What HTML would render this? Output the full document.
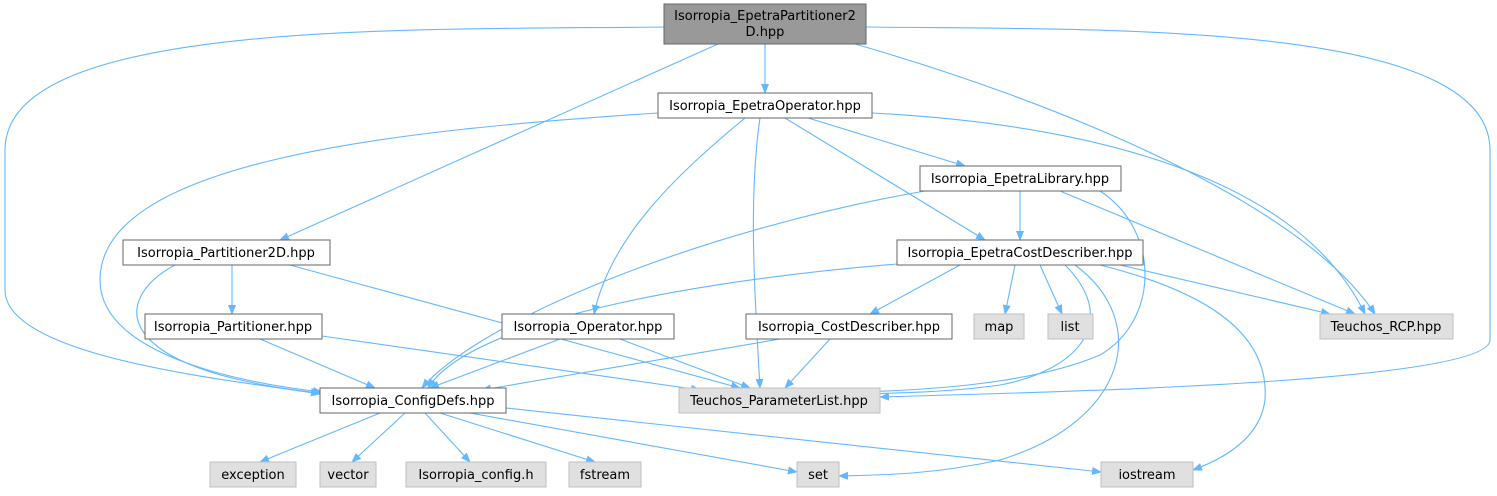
<!DOCTYPE html>
<html><head><meta charset="utf-8"><style>
html,body{margin:0;padding:0;background:#fff;}
svg text{font-family:"DejaVu Sans","Liberation Sans",sans-serif;font-size:13px;fill:#000;}
</style></head><body>
<svg width="1497" height="491" viewBox="0 0 1497 491" xmlns="http://www.w3.org/2000/svg">
<defs><marker id="a" markerWidth="10" markerHeight="8" refX="9" refY="4" orient="auto" markerUnits="userSpaceOnUse"><path d="M0,0 L10,4 L0,8 z" fill="#63b8ff"/></marker></defs>
<g fill="none" stroke="#63b8ff" stroke-width="1.1" marker-end="url(#a)">
<path d="M765,44 L765,93"/>
<path d="M718,44 L280,240"/>
<path d="M855,44 C1050,100 1300,200 1375,314"/>
<path d="M664,27 C400,30 5,20 5,150 L5,290 C5,360 250,382 320,394"/>
<path d="M866,27 C1100,30 1490,20 1490,150 L1490,340 C1490,385 1000,393 880,397"/>
<path d="M808,118 L965,166"/>
<path d="M785,118 L985,240"/>
<path d="M872,113 C1100,125 1300,180 1365,314"/>
<path d="M760,118 C748,200 755,300 760,388"/>
<path d="M745,118 C670,180 610,240 594,314"/>
<path d="M658,113 C400,130 100,160 100,280 C100,360 260,385 322,392"/>
<path d="M1020,191 L1020,240"/>
<path d="M1060,191 L1355,314"/>
<path d="M925,191 C700,230 480,320 422,388"/>
<path d="M1100,191 C1160,230 1160,320 1100,355 C1030,385 920,390 862,392"/>
<path d="M232,265 L232,314"/>
<path d="M175,265 C110,300 110,370 320,393"/>
<path d="M290,265 L740,388"/>
<path d="M960,265 L870,314"/>
<path d="M1015,265 L1005,314"/>
<path d="M1040,265 L1062,314"/>
<path d="M1120,265 L1330,314"/>
<path d="M897,264 C700,280 470,320 428,388"/>
<path d="M1065,265 C1120,320 1080,370 1000,385 C950,392 900,393 862,394"/>
<path d="M1075,265 C1150,320 1130,420 1000,460 C930,475 880,475 839,476"/>
<path d="M1100,265 C1200,290 1270,330 1265,400 C1260,440 1220,460 1193,470"/>
<path d="M260,339 L375,388"/>
<path d="M322,336 L700,390"/>
<path d="M560,339 L430,388"/>
<path d="M620,339 L750,388"/>
<path d="M780,339 L482,390"/>
<path d="M830,339 L785,388"/>
<path d="M380,413 L260,462"/>
<path d="M405,413 L352,462"/>
<path d="M425,413 L470,462"/>
<path d="M440,413 L595,462"/>
<path d="M470,413 L797,472"/>
<path d="M506,408 L1101,472"/>
</g>
<g stroke="#666" stroke-width="1">
<rect x="664" y="4" width="202" height="40" fill="#999"/>
<rect x="658" y="93" width="214" height="25" fill="#fff"/>
<rect x="920" y="166" width="201" height="25" fill="#fff"/>
<rect x="123" y="240" width="207" height="25" fill="#fff"/>
<rect x="897" y="240" width="246" height="25" fill="#fff"/>
<rect x="145" y="314" width="177" height="25" fill="#fff"/>
<rect x="502" y="314" width="172" height="25" fill="#fff"/>
<rect x="746" y="314" width="206" height="25" fill="#fff"/>
<rect x="320" y="388" width="186" height="25" fill="#fff"/>
</g>
<g stroke="#bfbfbf" stroke-width="1" fill="#e0e0e0">
<rect x="974" y="314" width="50" height="25"/>
<rect x="1048" y="314" width="45" height="25"/>
<rect x="1320" y="314" width="133" height="25"/>
<rect x="679" y="388" width="201" height="25"/>
<rect x="210" y="462" width="86" height="25"/>
<rect x="320" y="462" width="56" height="25"/>
<rect x="406" y="462" width="140" height="25"/>
<rect x="569" y="462" width="72" height="25"/>
<rect x="797" y="462" width="42" height="25"/>
<rect x="1101" y="462" width="92" height="25"/>
</g>
<g text-anchor="middle">
<text x="765" y="20">Isorropia_EpetraPartitioner2</text>
<text x="765" y="36">D.hpp</text>
<text x="765" y="110">Isorropia_EpetraOperator.hpp</text>
<text x="1020" y="183">Isorropia_EpetraLibrary.hpp</text>
<text x="226" y="257">Isorropia_Partitioner2D.hpp</text>
<text x="1020" y="257">Isorropia_EpetraCostDescriber.hpp</text>
<text x="233" y="331">Isorropia_Partitioner.hpp</text>
<text x="588" y="331">Isorropia_Operator.hpp</text>
<text x="849" y="331">Isorropia_CostDescriber.hpp</text>
<text x="999" y="331">map</text>
<text x="1070" y="331">list</text>
<text x="1386" y="331">Teuchos_RCP.hpp</text>
<text x="413" y="405">Isorropia_ConfigDefs.hpp</text>
<text x="779" y="405">Teuchos_ParameterList.hpp</text>
<text x="253" y="479">exception</text>
<text x="348" y="479">vector</text>
<text x="476" y="479">Isorropia_config.h</text>
<text x="605" y="479">fstream</text>
<text x="818" y="479">set</text>
<text x="1147" y="479">iostream</text>
</g>
</svg>
</body></html>
